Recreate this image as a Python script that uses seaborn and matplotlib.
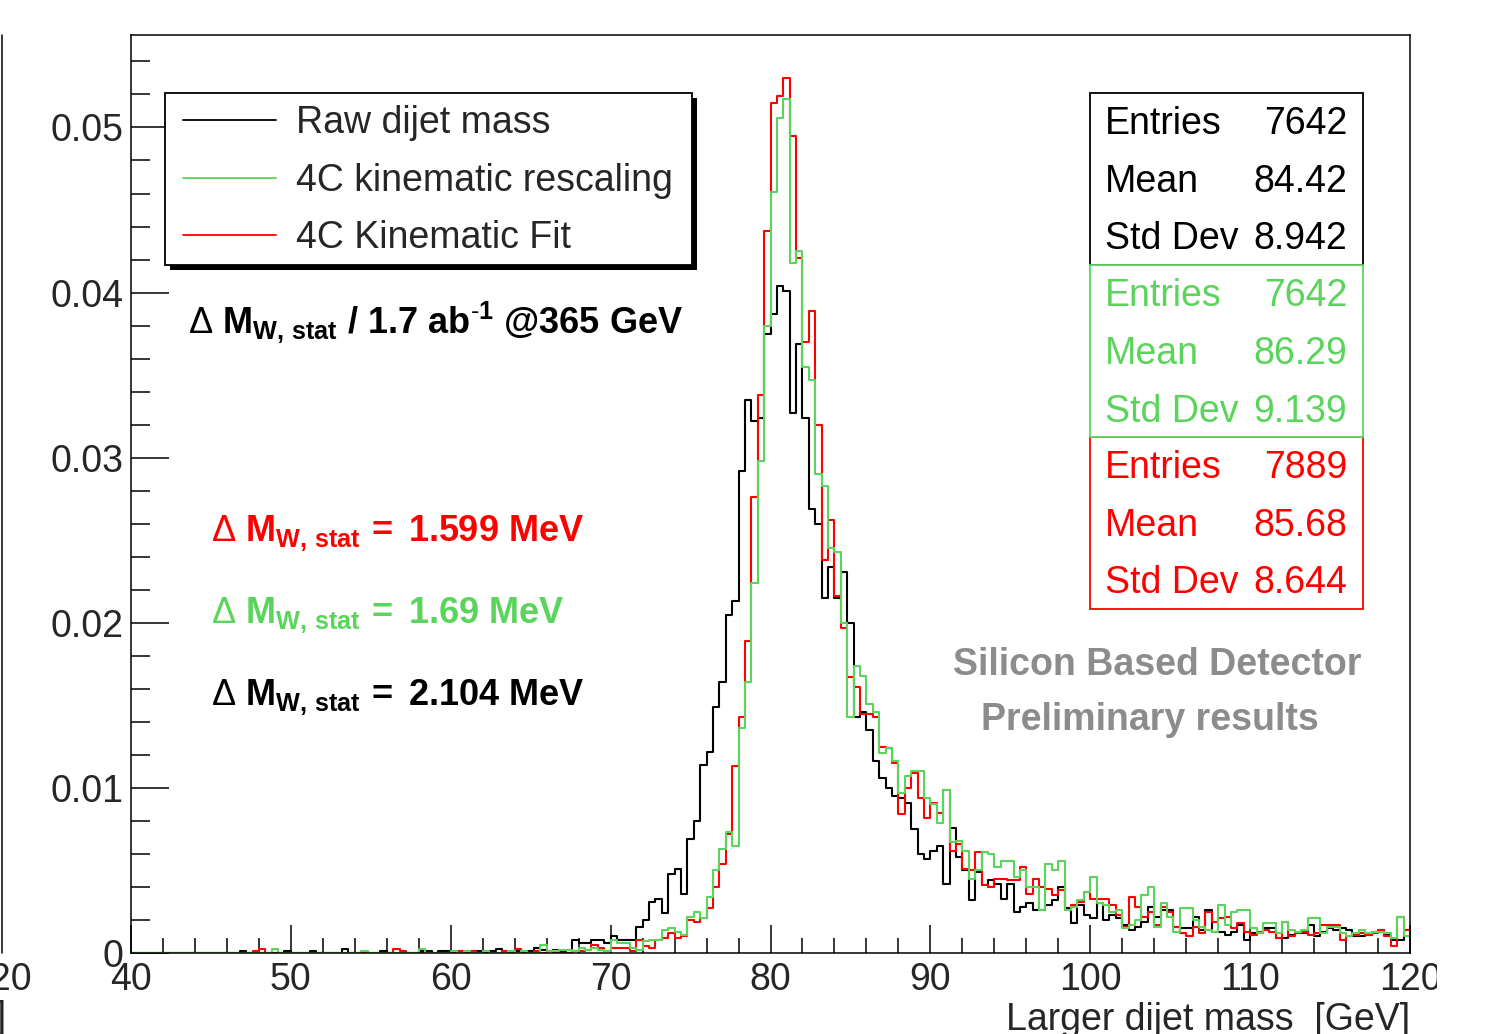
import numpy as np
import pandas as pd
import matplotlib
matplotlib.use("Agg")
import matplotlib.pyplot as plt
import seaborn as sns
from matplotlib.patches import Rectangle
from matplotlib.lines import Line2D
from matplotlib.ticker import FixedLocator, MultipleLocator, FuncFormatter

# ---------------- data ----------------
mass_low, mass_high, n_bins = 40.0, 120.0, 200

raw_mass = [
    0, 0, 0, 0, 0, 0, 0, 0, 0, 0,
    0, 0, 0, 0, 0, 0, 0, .00013, 0, 0,
    0, 0, 0, 0, .00013, 0, 0, 0, .00013, 0,
    0, 0, 0, .00026, 0, 0, 0, 0, 0, .00013,
    0, 0, 0, 0, 0, .00013, .00013, 0, .00013, .00013,
    0, 0, .00013, 0, .00013, 0, .00013, .00026, .00013, .00013,
    .00013, 0, .00013, .0003, .0002, .00013, .0002, .00013, .0002, .0008,
    .0006, .0006, .0008, .0008, .0006, .0010, .0008, .0008, .0008, .0016,
    .0020, .0031, .0033, .0024, .0048, .0051, .0036, .0069, .0080, .0114,
    .0122, .0149, .0164, .0205, .0213, .0292, .0335, .0322, .0324, .0375,
    .0387, .0404, .0401, .0327, .0369, .0324, .0269, .0260, .0215, .0234,
    .0215, .0231, .0200, .0143, .0146, .0135, .0116, .0106, .0100, .0095,
    .0094, .0091, .0075, .0060, .0057, .0062, .0065, .0042, .0076, .0058,
    .0050, .0032, .0049, .0041, .0044, .0042, .0033, .0042, .0025, .0028,
    .0030, .0026, .0026, .0029, .0032, .0040, .0027, .0018, .0029, .0023,
    .0021, .0030, .0020, .0023, .0021, .0017, .0014, .0016, .0019, .0028,
    .0022, .0026, .0026, .0016, .0015, .0015, .0022, .0014, .0026, .0013,
    .0013, .0011, .0013, .0017, .0008, .0012, .0012, .0015, .0015, .0009,
    .0009, .0011, .0012, .0012, .0017, .0010, .0013, .0015, .0014, .0015,
    .0014, .0010, .0010, .0011, .0013, .0014, .0011, .0008, .0008, .0014,
]

kinfit_mass = [
    0, 0, 0, 0, 0, 0, 0, 0, 0, 0,
    0, 0, 0, 0, 0, 0, 0, 0, 0, .00013,
    .00026, 0, 0, 0, 0, 0, 0, 0, 0, 0,
    0, 0, 0, 0, 0, 0, 0, 0, 0, 0,
    0, .00026, .00013, 0, 0, 0, 0, 0, 0, 0,
    0, .00013, 0, .00013, 0, .00013, 0, 0, .00013, 0,
    .00026, 0, 0, .00013, 0, .00013, 0, 0, 0, .00013,
    .00013, .0002, .0005, .0003, .00013, .0003, .0003, .0003, .00013, .0008,
    .0004, .0003, .0008, .0009, .0012, .0009, .0010, .0020, .0019, .0021,
    .0027, .0040, .0054, .0072, .0113, .0143, .0189, .0276, .0338, .0437,
    .0515, .0519, .0530, .0495, .0421, .0370, .0389, .0320, .0238, .0262,
    .0216, .0197, .0167, .0161, .0145, .0145, .0143, .0125, .0124, .0115,
    .0084, .0100, .0109, .0094, .0082, .0091, .0085, .0099, .0062, .0066,
    .0051, .0050, .0061, .0041, .0040, .0045, .0045, .0044, .0044, .0052,
    .0036, .0045, .0040, .0039, .0035, .0038, .0026, .0029, .0031, .0037,
    .0033, .0033, .0033, .0029, .0023, .0016, .0034, .0028, .0022, .0025,
    .0017, .0028, .0025, .0016, .0012, .0010, .0016, .0012, .0025, .0019,
    .0021, .0022, .0015, .0018, .0013, .0011, .0013, .0014, .0013, .0009,
    .0019, .0010, .0012, .0013, .0011, .0012, .0017, .0017, .0017, .0008,
    .0010, .0011, .0012, .0011, .0012, .0014, .0010, .0004, .0022, .0014,
]

rescaled_mass = [
    0, 0, 0, 0, 0, 0, 0, 0, 0, 0,
    0, 0, 0, 0, 0, 0, 0, 0, 0, 0,
    0, 0, .00026, 0, 0, 0, 0, 0, 0, 0,
    0, 0, 0, 0, 0, 0, .00013, 0, 0, 0,
    0, 0, 0, 0, 0, .00026, 0, 0, 0, 0,
    .00013, 0, .00013, 0, 0, .00013, 0, 0, 0, .00013,
    0, .00013, 0, 0, .0005, .00013, .00013, .0002, .0002, .00013,
    .0003, .0002, .0003, .0002, .00013, .0008, .0006, .0006, .0003, .0002,
    .0007, .0008, .0008, .0014, .0015, .0013, .0011, .0022, .0025, .0021,
    .0034, .0050, .0063, .0073, .0065, .0136, .0164, .0224, .0298, .0380,
    .0461, .0506, .0517, .0418, .0425, .0355, .0347, .0290, .0283, .0245,
    .0243, .0200, .0143, .0174, .0168, .0151, .0146, .0121, .0124, .0116,
    .0097, .0107, .0110, .0110, .0094, .0090, .0079, .0099, .0067, .0068,
    .0062, .0045, .0050, .0061, .0060, .0052, .0056, .0056, .0046, .0050,
    .0040, .0040, .0026, .0054, .0050, .0056, .0026, .0028, .0032, .0037,
    .0046, .0030, .0029, .0025, .0026, .0015, .0017, .0020, .0035, .0040,
    .0016, .0030, .0022, .0013, .0027, .0027, .0020, .0016, .0014, .0013,
    .0029, .0017, .0025, .0026, .0026, .0015, .0012, .0018, .0018, .0012,
    .0019, .0014, .0013, .0014, .0021, .0021, .0012, .0016, .0016, .0012,
    .0010, .0012, .0014, .0012, .0013, .0013, .0012, .0009, .0022, .0010,
]

series_labels = ["Raw dijet mass", "4C kinematic rescaling", "4C Kinematic Fit"]
series_colors = ["#000000", "#5ad45a", "#ff0000"]
stat_entries = ["7642", "7642", "7889"]
stat_means = ["84.42", "86.29", "85.68"]
stat_stddevs = ["8.942", "9.139", "8.644"]
delta_mw_values = ["2.104", "1.69", "1.599"]
x_tick_values = [40, 50, 60, 70, 80, 90, 100, 110, 120]
y_tick_values = [0, 0.01, 0.02, 0.03, 0.04, 0.05]
x_label = "Larger dijet mass  [GeV]"
lumi_label = (r"$\Delta\ \mathbf{M}_{\mathbf{W,\,stat}}\ \mathbf{/\ 1.7\ ab}"
              r"^{\text{-}\mathbf{1}}\ \mathbf{@365\ GeV}$")
watermark = ["Silicon Based Detector", "Preliminary results"]

# ---------------- style ----------------
sns.set_style("ticks")
plt.rcParams["font.family"] = ["Liberation Sans", "DejaVu Sans"]
plt.rcParams["mathtext.fontset"] = "custom"
plt.rcParams["mathtext.rm"] = "Liberation Sans"
plt.rcParams["mathtext.it"] = "Liberation Sans:italic"
plt.rcParams["mathtext.bf"] = "Liberation Sans:bold"

FS = 27
FS_ANN = 26
W, H = 1485, 1034
AX_L, AX_R, AX_T, AX_B = 131, 1410, 35, 953


def axp(px, py):
    return ((px - AX_L) / (AX_R - AX_L), (AX_B - py) / (AX_B - AX_T))


edges = np.linspace(mass_low, mass_high, n_bins + 1)
centers = 0.5 * (edges[:-1] + edges[1:])
df = pd.DataFrame({
    "mass": np.tile(centers, 3),
    "weight": raw_mass + rescaled_mass + kinfit_mass,
    "series": np.repeat(series_labels, n_bins),
})

fig = plt.figure(figsize=(W / 100, H / 100), dpi=100)
ax = fig.add_axes([AX_L / W, 1 - AX_B / H, (AX_R - AX_L) / W, (AX_B - AX_T) / H])

# draw order as in the original: black, red, green
for idx in [0, 2, 1]:
    sub = df[df["series"] == series_labels[idx]]
    sns.histplot(data=sub, x="mass", weights="weight", bins=n_bins,
                 binrange=(mass_low, mass_high),
                 element="step", fill=False, color=series_colors[idx],
                 linewidth=1.5, ax=ax, zorder=2)

ax.set_xlim(mass_low, mass_high)
ax.set_ylim(0, 0.0556)
ax.set_ylabel("")
ax.set_xlabel(x_label, loc="right", fontsize=FS, labelpad=3)

ax.xaxis.set_major_locator(FixedLocator(x_tick_values))
ax.xaxis.set_minor_locator(MultipleLocator(2))
ax.yaxis.set_major_locator(FixedLocator(y_tick_values))
ax.yaxis.set_minor_locator(MultipleLocator(0.002))
ax.yaxis.set_major_formatter(FuncFormatter(lambda v, p: "0" if abs(v) < 1e-9 else f"{v:.2f}"))
ax.xaxis.set_major_formatter(FuncFormatter(lambda v, p: f"{v:.0f}"))

ax.tick_params(axis="both", which="both", direction="in", color="black",
               width=1.1, labelsize=FS, top=False, right=False)
ax.tick_params(axis="x", which="major", length=20, pad=6.5)
ax.tick_params(axis="x", which="minor", length=11)
ax.tick_params(axis="y", which="major", length=27, pad=5.5)
ax.tick_params(axis="y", which="minor", length=14)
for sp in ax.spines.values():
    sp.set_visible(True)
    sp.set_color("black")
    sp.set_linewidth(1.1)

# ---------------- legend ----------------
x0, y0 = axp(165, 265)
x1, y1 = axp(692, 93)
xs0, ys0 = axp(170, 270)
ax.add_patch(Rectangle((xs0, ys0), x1 - x0, y1 - y0, transform=ax.transAxes,
                       facecolor="black", edgecolor="black", lw=0, zorder=4))
ax.add_patch(Rectangle((x0, y0), x1 - x0, y1 - y0, transform=ax.transAxes,
                       facecolor="white", edgecolor="black", lw=1.3, zorder=4.5))
handles = [Line2D([], [], color=c, lw=1.3) for c in series_colors]
leg = ax.legend(handles, series_labels, loc="upper left",
                bbox_to_anchor=axp(183, 105), bbox_transform=ax.transAxes,
                frameon=False, borderpad=0, borderaxespad=0,
                handlelength=93 / 37.5, handletextpad=20 / 37.5,
                labelspacing=0.58, fontsize=FS)
leg.set_zorder(5)

# ---------------- stats boxes ----------------
box_tops = [93, 265, 437]
box_h = 172
stat_order = [0, 2, 1]  # drawing order: black, red, green boxes
for k, idx in enumerate(stat_order):
    top = box_tops[idx]
    bx0, by0 = axp(1090, top + box_h)
    bx1, by1 = axp(1363, top)
    ax.add_patch(Rectangle((bx0, by0), bx1 - bx0, by1 - by0, transform=ax.transAxes,
                           facecolor="white", edgecolor=series_colors[idx],
                           lw=1.3, zorder=4 + 0.1 * k))
    rows = [("Entries", stat_entries[idx]), ("Mean", stat_means[idx]),
            ("Std Dev", stat_stddevs[idx])]
    for r, (lab, val) in enumerate(rows):
        yc = top + 28 + 57.5 * r
        tx, ty = axp(1105, yc + 13.5)
        ax.text(tx, ty, lab, transform=ax.transAxes, ha="left", va="baseline",
                fontsize=FS, color=series_colors[idx], zorder=6)
        tx, ty = axp(1347, yc + 13.5)
        ax.text(tx, ty, val, transform=ax.transAxes, ha="right", va="baseline",
                fontsize=FS, color=series_colors[idx], zorder=6)

# ---------------- annotations ----------------
tx, ty = axp(188, 333)
ax.text(tx, ty, lumi_label, transform=ax.transAxes, ha="left", va="baseline",
        fontsize=FS_ANN, color="black", zorder=6)

dm_rows = [(2, 541), (1, 623), (0, 705)]
for idx, base in dm_rows:
    s = (r"$\Delta\ \mathbf{M}_{\mathbf{W,\,stat}}\,\mathbf{=}\ \mathbf{"
         + delta_mw_values[idx] + r"\ MeV}$")
    tx, ty = axp(211, base)
    ax.text(tx, ty, s, transform=ax.transAxes, ha="left", va="baseline",
            fontsize=FS_ANN, color=series_colors[idx], zorder=6)

tx, ty = axp(1157, 675)
ax.text(tx, ty, watermark[0], transform=ax.transAxes, ha="center", va="baseline",
        fontsize=FS, fontweight="bold", color="#8c8c8c", zorder=6)
tx, ty = axp(1150, 730)
ax.text(tx, ty, watermark[1], transform=ax.transAxes, ha="center", va="baseline",
        fontsize=FS, fontweight="bold", color="#8c8c8c", zorder=6)

# ---------------- neighbouring panel remnants / crop ----------------
fig.add_artist(Line2D([2 / W, 2 / W], [1 - AX_T / H, 1 - AX_B / H],
                      transform=fig.transFigure, color="black", lw=1.1))
fig.text(32 / W, 1 - 962 / H, "120", ha="right", va="top", fontsize=FS)
fig.text(6 / W, 1 - 1000 / H, x_label, ha="right", va="top", fontsize=FS)
fig.add_artist(Rectangle((1437 / W, 0), 1, 1, transform=fig.transFigure,
                         facecolor="white", edgecolor="none", zorder=20))

fig.savefig("out.png", dpi=100)
